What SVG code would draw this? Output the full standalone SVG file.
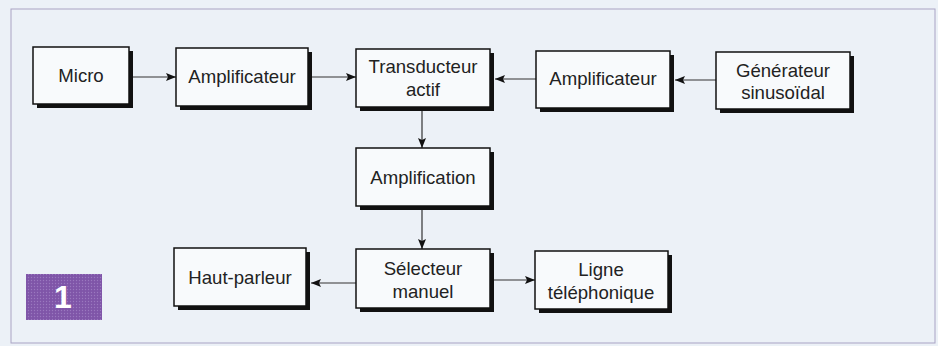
<svg xmlns="http://www.w3.org/2000/svg" width="938" height="346" viewBox="0 0 938 346">
<defs>
<style>
.bg{fill:#ecf1f7}
.frame{fill:none;stroke:#a9a3c4;stroke-width:1}
.sh{fill:#111}
.box{fill:#f8fafc;stroke:#111;stroke-width:1.5}
.t{font-family:"Liberation Sans",Arial,sans-serif;font-size:18.6px;fill:#222;text-anchor:middle}
.c{stroke:#333;stroke-width:1.2;fill:none}
</style>
<marker id="ah" viewBox="0 0 10 8" refX="10" refY="4" markerWidth="10" markerHeight="8" markerUnits="userSpaceOnUse" orient="auto">
<path d="M0,0 L10,4 L0,8 L2,4 Z" fill="#111"/>
</marker>
<pattern id="dots" width="3" height="3" patternUnits="userSpaceOnUse">
<rect width="3" height="3" fill="#7f55a8"/>
<circle cx="1.5" cy="1.5" r="0.7" fill="#9a78bf"/>
</pattern>
</defs>
<rect class="bg" x="0" y="0" width="938" height="346"/>
<rect class="frame" x="11" y="9" width="924" height="334"/>

<g id="connectors">
<line class="c" x1="133" y1="77" x2="176" y2="77" marker-end="url(#ah)"/>
<line class="c" x1="312" y1="77" x2="356" y2="77" marker-end="url(#ah)"/>
<line class="c" x1="536" y1="79" x2="495" y2="79" marker-end="url(#ah)"/>
<line class="c" x1="716" y1="80" x2="675" y2="80" marker-end="url(#ah)"/>
<line class="c" x1="422" y1="111" x2="422" y2="148" marker-end="url(#ah)"/>
<line class="c" x1="422" y1="210" x2="422" y2="249" marker-end="url(#ah)"/>
<line class="c" x1="356" y1="283" x2="311" y2="283" marker-end="url(#ah)"/>
<line class="c" x1="494" y1="280" x2="535" y2="280" marker-end="url(#ah)"/>
</g>

<g id="micro">
<rect class="sh" x="37" y="51" width="96" height="57"/>
<rect class="box" x="33" y="47" width="96" height="57"/>
<text class="t" x="81" y="82">Micro</text>
</g>
<g id="amplificateur1">
<rect class="sh" x="180" y="52" width="132" height="58"/>
<rect class="box" x="176" y="48" width="132" height="58"/>
<text class="t" x="242" y="83">Amplificateur</text>
</g>
<g id="transducteur">
<rect class="sh" x="360" y="53" width="134" height="58"/>
<rect class="box" x="356" y="49" width="134" height="58"/>
<text class="t" x="423" y="73">Transducteur</text>
<text class="t" x="423" y="96">actif</text>
</g>
<g id="amplificateur2">
<rect class="sh" x="540" y="55" width="134" height="57"/>
<rect class="box" x="536" y="51" width="134" height="57"/>
<text class="t" x="603" y="85">Amplificateur</text>
</g>
<g id="generateur">
<rect class="sh" x="720" y="56" width="134" height="57"/>
<rect class="box" x="716" y="52" width="134" height="57"/>
<text class="t" x="783" y="77">Générateur</text>
<text class="t" x="783" y="99">sinusoïdal</text>
</g>
<g id="amplification">
<rect class="sh" x="360" y="152" width="134" height="58"/>
<rect class="box" x="356" y="148" width="134" height="58"/>
<text class="t" x="423" y="184">Amplification</text>
</g>
<g id="selecteur">
<rect class="sh" x="360" y="253" width="134" height="59"/>
<rect class="box" x="356" y="249" width="134" height="59"/>
<text class="t" x="423" y="275">Sélecteur</text>
<text class="t" x="423" y="298">manuel</text>
</g>
<g id="haut-parleur">
<rect class="sh" x="178" y="252" width="132" height="58"/>
<rect class="box" x="174" y="248" width="132" height="58"/>
<text class="t" x="240" y="284">Haut-parleur</text>
</g>
<g id="ligne">
<rect class="sh" x="539" y="255" width="133" height="58"/>
<rect class="box" x="535" y="251" width="133" height="58"/>
<text class="t" x="601" y="276">Ligne</text>
<text class="t" x="601" y="299">téléphonique</text>
</g>
<g id="label1">
<rect x="26" y="274" width="76" height="46" fill="url(#dots)"/>
<text x="63" y="308" font-family="Liberation Sans,Arial,sans-serif" font-size="32" font-weight="bold" fill="#fff" text-anchor="middle">1</text>
</g>
</svg>
